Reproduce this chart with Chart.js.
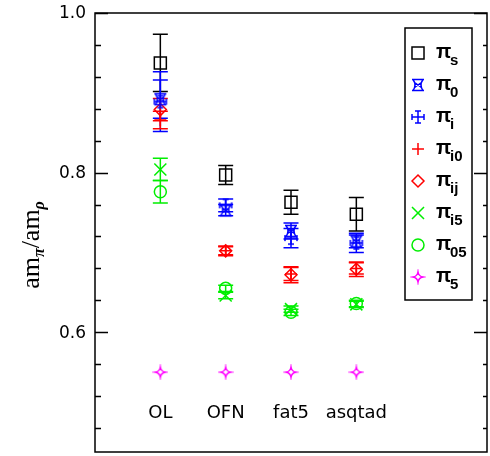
<!DOCTYPE html>
<html><head><meta charset="utf-8">
<script src="https://cdn.jsdelivr.net/npm/chart.js@4"></script>
<style>html,body{margin:0;padding:0;background:#fff}</style>
</head><body>
<canvas id="c" width="490" height="456"></canvas>
<script>
const categories = ['OL', 'OFN', 'fat5', 'asqtad'];
const seriesSubs = ['s', '0', 'i', 'i0', 'ij', 'i5', '05', '5'];
const pi_s = [0.9375, 0.797, 0.763, 0.748];
const pi_s_err = [0.036, 0.012, 0.015, 0.021];
const pi_0 = [0.892, 0.753, 0.727, 0.714];
const pi_0_err = [0.024, 0.007, 0.010, 0.008];
const pi_i = [0.889, 0.759, 0.718, 0.712];
const pi_i_err = [0.0375, 0.008, 0.012, 0.012];
const pi_i0 = [0.866, 0.702, 0.673, 0.680];
const pi_i0_err = [0.011, 0.005, 0.008, 0.007];
const pi_ij = [0.879, 0.702, 0.672, 0.679];
const pi_ij_err = [0.014, 0.006, 0.010, 0.009];
const pi_i5 = [0.804, 0.646, 0.629, 0.635];
const pi_i5_err = [0.014, 0.004, 0.004, 0.004];
const pi_05 = [0.776, 0.655, 0.625, 0.636];
const pi_05_err = [0.014, 0.004, 0.004, 0.004];
const pi_5 = [0.55, 0.55, 0.55, 0.55];
const pi_5_err = [0, 0, 0, 0];
const yMajorTicks = [0.6, 0.8, 1.0];
const yTickLabels = ['0.6', '0.8', '1.0'];
const yMinorTicks = [0.48, 0.52, 0.56, 0.64, 0.68, 0.72, 0.76, 0.84, 0.88, 0.92, 0.96];
const categoryLabelY = 0.5;
const yTitle = ['am', 'π', '/am', 'ρ'];

function marker(kind, color) {
  const s = 16, c = document.createElement('canvas');
  c.width = s; c.height = s;
  const g = c.getContext('2d');
  g.strokeStyle = color; g.lineWidth = 1.5; g.lineCap = 'butt';
  g.beginPath();
  if (kind === 'bowtie') {
    g.moveTo(2, 2.5); g.lineTo(14, 2.5);
    g.moveTo(2, 13.5); g.lineTo(14, 13.5);
    g.moveTo(3, 2.5); g.quadraticCurveTo(7, 8, 3, 13.5);
    g.moveTo(13, 2.5); g.quadraticCurveTo(9, 8, 13, 13.5);
    g.moveTo(4, 5); g.lineTo(12, 11); g.moveTo(12, 5); g.lineTo(4, 11);
  } else if (kind === 'serifplus') {
    g.moveTo(2, 8); g.lineTo(14, 8);
    g.moveTo(8, 2); g.lineTo(8, 14);
    g.moveTo(2, 5); g.lineTo(2, 11);
    g.moveTo(14, 5); g.lineTo(14, 11);
    g.moveTo(5, 2); g.lineTo(11, 2);
    g.moveTo(5, 14); g.lineTo(11, 14);
  } else if (kind === 'star4') {
    g.moveTo(8, 3);
    g.quadraticCurveTo(8.7, 7.3, 13, 8);
    g.quadraticCurveTo(8.7, 8.7, 8, 13);
    g.quadraticCurveTo(7.3, 8.7, 3, 8);
    g.quadraticCurveTo(7.3, 7.3, 8, 3);
    g.closePath();
  }
  g.stroke();
  return c;
}

const defs = [
  {data: pi_s, err: pi_s_err, color: '#000000', style: 'rect', r: 8.5},
  {data: pi_0, err: pi_0_err, color: '#0000ff', style: marker('bowtie', '#0000ff'), r: 7},
  {data: pi_i, err: pi_i_err, color: '#0000ff', style: marker('serifplus', '#0000ff'), r: 7},
  {data: pi_i0, err: pi_i0_err, color: '#ff0000', style: 'cross', r: 6},
  {data: pi_ij, err: pi_ij_err, color: '#ff0000', style: 'rectRot', r: 6},
  {data: pi_i5, err: pi_i5_err, color: '#00ee00', style: 'crossRot', r: 8.5},
  {data: pi_05, err: pi_05_err, color: '#00ee00', style: 'circle', r: 6},
  {data: pi_5, err: pi_5_err, color: '#ff00ff', style: marker('star4', '#ff00ff'), r: 6}
];

const datasets = defs.map((d, k) => ({
  label: 'π' + seriesSubs[k],
  data: d.data.map((v, i) => ({x: i + 1, y: v})),
  err: d.err,
  showLine: false,
  pointStyle: d.style,
  pointRadius: d.r,
  pointBorderColor: d.color,
  pointBackgroundColor: 'rgba(0,0,0,0)',
  pointBorderWidth: 1.5,
  borderColor: d.color
}));

const drawPlugin = {
  id: 'drawPlugin',
  beforeDatasetsDraw(chart) {
    const ctx = chart.ctx, xs = chart.scales.x, ys = chart.scales.y;
    ctx.save();
    ctx.lineWidth = 1.5;
    chart.data.datasets.forEach(ds => {
      ctx.strokeStyle = ds.borderColor;
      ds.data.forEach((p, i) => {
        const e = ds.err[i];
        if (!e) return;
        const x = xs.getPixelForValue(p.x);
        const y1 = ys.getPixelForValue(p.y - e), y2 = ys.getPixelForValue(p.y + e);
        ctx.beginPath();
        ctx.moveTo(x, y1); ctx.lineTo(x, y2);
        ctx.moveTo(x - 7.5, y1); ctx.lineTo(x + 7.5, y1);
        ctx.moveTo(x - 7.5, y2); ctx.lineTo(x + 7.5, y2);
        ctx.stroke();
      });
    });
    ctx.restore();
  },
  afterDatasetsDraw(chart) {
    const ctx = chart.ctx, xs = chart.scales.x, ys = chart.scales.y;
    const a = chart.chartArea;
    ctx.save();
    ctx.strokeStyle = '#000'; ctx.lineWidth = 1.5;
    ctx.strokeRect(a.left, a.top, a.right - a.left, a.bottom - a.top);
    ctx.beginPath();
    yMajorTicks.forEach(v => {
      const y = Math.round(ys.getPixelForValue(v)) + 0.5;
      ctx.moveTo(a.left, y); ctx.lineTo(a.left + 13, y);
      ctx.moveTo(a.right, y); ctx.lineTo(a.right - 13, y);
    });
    yMinorTicks.forEach(v => {
      const y = Math.round(ys.getPixelForValue(v)) + 0.5;
      ctx.moveTo(a.left, y); ctx.lineTo(a.left + 6, y);
      ctx.moveTo(a.right, y); ctx.lineTo(a.right - 4, y);
    });
    ctx.stroke();
    // tick labels
    ctx.fillStyle = '#000';
    ctx.font = '17px "DejaVu Sans"';
    ctx.textAlign = 'right'; ctx.textBaseline = 'middle';
    yMajorTicks.forEach((v, i) => {
      ctx.fillText(yTickLabels[i], a.left - 9, ys.getPixelForValue(v) + 1);
    });
    // category labels
    ctx.textAlign = 'center'; ctx.textBaseline = 'alphabetic';
    ctx.font = '18px "DejaVu Sans"';
    categories.forEach((c, i) => {
      ctx.fillText(c, xs.getPixelForValue(i + 1), ys.getPixelForValue(categoryLabelY) + 6);
    });
    // y title
    ctx.save();
    ctx.translate(31, 245);
    ctx.rotate(-Math.PI / 2);
    const big = '26px "Liberation Serif"', small = 'italic bold 16px "Liberation Serif"';
    const parts = [[yTitle[0], big, 0], [yTitle[1], small, 5], [yTitle[2], big, 0], [yTitle[3], small, 5]];
    let tw = 0;
    parts.forEach(p => { ctx.font = p[1]; tw += ctx.measureText(p[0]).width; });
    let tx = -tw / 2;
    ctx.textAlign = 'left';
    parts.forEach(p => { ctx.font = p[1]; ctx.fillText(p[0], tx, 8 + p[2]); tx += ctx.measureText(p[0]).width; });
    ctx.restore();
    // legend
    const lx = 405, ly = 28, lw = 67, lh = 272;
    ctx.fillStyle = '#fff';
    ctx.fillRect(lx, ly, lw, lh);
    ctx.strokeStyle = '#000';
    ctx.strokeRect(lx, ly, lw, lh);
    chart.data.datasets.forEach((ds, k) => {
      const y = 53 + 32 * k;
      ctx.fillStyle = 'rgba(0,0,0,0)';
      ctx.strokeStyle = ds.borderColor; ctx.lineWidth = 1.5;
      Chart.helpers.drawPoint(ctx, {
        pointStyle: ds.pointStyle, radius: ds.pointRadius, borderWidth: 1.5, rotation: 0
      }, 418, y);
      ctx.fillStyle = '#000';
      ctx.textAlign = 'left'; ctx.textBaseline = 'alphabetic';
      ctx.font = 'bold 20px "Liberation Sans"';
      ctx.fillText('π', 436, y + 5);
      ctx.font = 'bold 15px "Liberation Sans"';
      ctx.fillText(seriesSubs[k], 450, y + 12);
    });
    ctx.restore();
  }
};

new Chart(document.getElementById('c'), {
  type: 'scatter',
  data: {datasets},
  options: {
    responsive: false,
    animation: false,
    layout: {autoPadding: false, padding: {left: 95, right: 3, top: 13, bottom: 4}},
    plugins: {legend: {display: false}, tooltip: {enabled: false}},
    scales: {
      x: {type: 'linear', min: 0, max: 6, display: false},
      y: {type: 'linear', min: 0.45, max: 1.0, display: false}
    }
  },
  plugins: [drawPlugin]
});
</script>
</body></html>
